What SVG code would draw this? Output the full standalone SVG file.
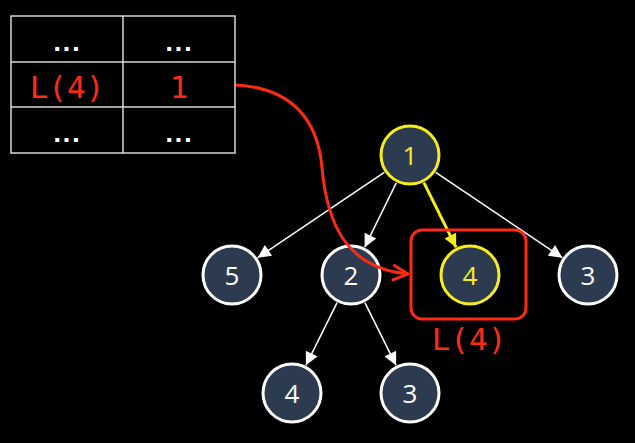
<svg xmlns="http://www.w3.org/2000/svg" width="635" height="443" viewBox="0 0 635 443">
  <defs>
    <marker id="aw" viewBox="0 0 10 10" refX="10" refY="5" markerUnits="userSpaceOnUse" markerWidth="15" markerHeight="13" orient="auto">
      <path d="M0,0 L10,5 L0,10 z" fill="#ffffff"/>
    </marker>
    <marker id="ay" viewBox="0 0 10 10" refX="10" refY="5" markerUnits="userSpaceOnUse" markerWidth="15" markerHeight="13" orient="auto">
      <path d="M0,0 L10,5 L0,10 z" fill="#f7ec1e"/>
    </marker>
    <marker id="ar" viewBox="0 0 10 10" refX="9" refY="5" markerUnits="userSpaceOnUse" markerWidth="18" markerHeight="18" orient="auto">
      <path d="M1,1 L9,5 L1,9" fill="none" stroke="#ff2a12" stroke-width="1.6" stroke-linecap="round" stroke-linejoin="round"/>
    </marker>
    <style>
      .cell { fill: none; stroke: #d8d8d8; stroke-width: 1.5; }
      .dots { fill: #ffffff; font-family: "DejaVu Sans", sans-serif; font-size: 22px; text-anchor: middle; font-weight: bold; letter-spacing: 1px; }
      .red { fill: #ff2a12; font-family: "DejaVu Sans Mono", "Liberation Mono", monospace; font-size: 31px; text-anchor: middle; }
      .node circle { fill: #2c3b50; stroke: #ffffff; stroke-width: 3; }
      .node.hl circle { stroke: #f7ec1e; }
      .node text { fill: #ffffff; font-family: "Open Sans", "DejaVu Sans", sans-serif; font-size: 26px; text-anchor: middle; }
      .node.hl text { fill: #f7ec1e; }
      .edge { stroke: #ffffff; stroke-width: 1.5; fill: none; marker-end: url(#aw); }
      .edge.hl { stroke: #f7ec1e; stroke-width: 3; marker-end: url(#ay); }
    </style>
  </defs>
  <rect width="635" height="443" fill="#000000"/>

  <g id="table">
    <rect class="cell" x="11" y="16" width="224" height="137"/>
    <line class="cell" x1="123" y1="16" x2="123" y2="153"/>
    <line class="cell" x1="11" y1="62" x2="235" y2="62"/>
    <line class="cell" x1="11" y1="107" x2="235" y2="107"/>
    <text class="dots" x="67" y="51">...</text>
    <text class="dots" x="179" y="51">...</text>
    <text class="red" x="67" y="98">L(4)</text>
    <text class="red" x="179" y="98">1</text>
    <text class="dots" x="67" y="142">...</text>
    <text class="dots" x="179" y="142">...</text>
  </g>

  <g id="connectors">
    <line class="edge" x1="384.3" y1="172.3" x2="257.7" y2="257.7"/>
    <line class="edge" x1="396.3" y1="182.8" x2="364.7" y2="247.2"/>
    <line class="edge hl" x1="423.9" y1="182.7" x2="456.1" y2="247.3"/>
    <line class="edge" x1="435.7" y1="172.3" x2="562.3" y2="257.7"/>
    <line class="edge" x1="337.1" y1="302.7" x2="305.9" y2="365.3"/>
    <line class="edge" x1="364.9" y1="302.7" x2="396.1" y2="365.3"/>
  </g>

  <g id="highlight">
    <rect x="411" y="230" width="115" height="89" rx="11" ry="11" fill="none" stroke="#ff2a12" stroke-width="3"/>
    <text class="red" x="469" y="350">L(4)</text>
  </g>

  <g id="n1" class="node hl"><circle cx="410" cy="155" r="29"/><text x="410" y="165">1</text></g>
  <g id="n5" class="node"><circle cx="232" cy="275" r="29"/><text x="232" y="285">5</text></g>
  <g id="n2" class="node"><circle cx="351" cy="275" r="29"/><text x="351" y="285">2</text></g>
  <g id="n4" class="node hl"><circle cx="470" cy="275" r="29"/><text x="470" y="285">4</text></g>
  <g id="n3" class="node"><circle cx="588" cy="275" r="29"/><text x="588" y="285">3</text></g>
  <g id="n4b" class="node"><circle cx="292" cy="393" r="29"/><text x="292" y="403">4</text></g>
  <g id="n3b" class="node"><circle cx="410" cy="393" r="29"/><text x="410" y="403">3</text></g>

  <g id="lookup-arrow">
    <path d="M236,85 C292,88 318,120 322,168 C327,222 345,268 408,274" fill="none" stroke="#ff2a12" stroke-width="3" marker-end="url(#ar)"/>
  </g>
</svg>
